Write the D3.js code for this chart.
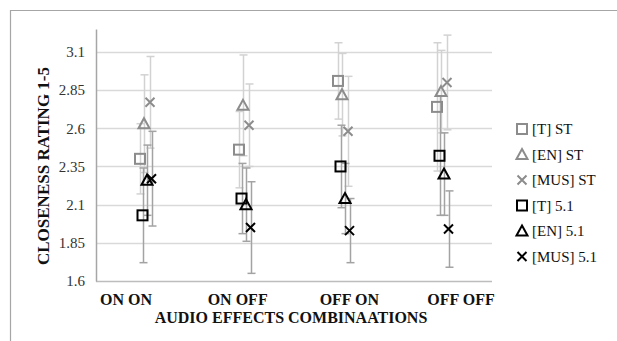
<!DOCTYPE html>
<html><head><meta charset="utf-8">
<script src="https://cdn.jsdelivr.net/npm/d3@7/dist/d3.min.js"></script>
<style>html,body{margin:0;padding:0;background:#fff;}svg{display:block;} svg text{font-family:"Liberation Serif","Times New Roman",serif;}</style>
</head><body>
<script>
const categories = ["ON ON", "ON OFF", "OFF ON", "OFF OFF"];
const yTicks = [1.6, 1.85, 2.1, 2.35, 2.6, 2.85, 3.1];
const seriesNames = ["[T] ST", "[EN] ST", "[MUS] ST", "[T] 5.1", "[EN] 5.1", "[MUS] 5.1"];
const T_ST = [2.40, 2.46, 2.91, 2.74];
const T_ST_err = [0.23, 0.25, 0.25, 0.42];
const EN_ST = [2.63, 2.75, 2.82, 2.84];
const EN_ST_err = [0.32, 0.33, 0.27, 0.27];
const MUS_ST = [2.77, 2.62, 2.58, 2.90];
const MUS_ST_err = [0.30, 0.27, 0.36, 0.31];
const T_51 = [2.03, 2.14, 2.35, 2.42];
const T_51_err = [0.31, 0.23, 0.27, 0.39];
const EN_51 = [2.26, 2.10, 2.14, 2.30];
const EN_51_err = [0.23, 0.24, 0.23, 0.27];
const MUS_51 = [2.27, 1.95, 1.93, 1.94];
const MUS_51_err = [0.31, 0.30, 0.21, 0.25];

const W = 617, H = 341;
const svg = d3.select("body").append("svg").attr("width", W).attr("height", H);
const serif = "'Liberation Serif', 'Times New Roman', serif";

// chart frame
svg.append("path").attr("d", `M10.5,${H} L10.5,10.5 L${W},10.5`)
  .attr("fill", "none").attr("stroke", "#a6a6a6").attr("stroke-width", 1.2);

const x = d3.scaleBand().domain(categories).range([96, 492]);
const y = d3.scaleLinear().domain([1.6, 3.25]).range([281, 29]);
const labelX = d3.scalePoint().domain(categories).range([126, 461]);

// gridlines
svg.append("g").selectAll("line").data(yTicks).join("line")
  .attr("x1", 96).attr("x2", 492)
  .attr("y1", d => Math.round(y(d)) + 0.5).attr("y2", d => Math.round(y(d)) + 0.5)
  .attr("stroke", d => d === 1.6 ? "#bdbdbd" : "#d9d9d9").attr("stroke-width", 1.5);

// y axis
const yAxis = svg.append("g").attr("transform", "translate(96,0)")
  .call(d3.axisLeft(y).tickValues(yTicks).tickSize(0).tickPadding(11).tickFormat(d => String(d)));
yAxis.attr("font-family", null);
yAxis.select(".domain").attr("stroke", "#a6a6a6").attr("stroke-width", 1.5);
yAxis.selectAll("text").style("font-family", serif).attr("font-size", 15).attr("fill", "#333");

// x labels
svg.append("g").selectAll("text").data(categories).join("text")
  .attr("x", d => labelX(d)).attr("y", 305).attr("text-anchor", "middle")
  .style("font-family", serif).attr("font-weight", "bold").attr("font-size", 16).attr("fill", "#111")
  .text(d => d);

svg.append("text").attr("x", 291).attr("y", 323).attr("text-anchor", "middle")
  .style("font-family", serif).attr("font-weight", "bold").attr("font-size", 16).attr("fill", "#111")
  .text("AUDIO EFFECTS COMBINAATIONS");

svg.append("text").attr("transform", "translate(49,166) rotate(-90)").attr("text-anchor", "middle")
  .style("font-family", serif).attr("font-weight", "bold").attr("font-size", 17).attr("fill", "#111")
  .text("CLOSENESS RATING 1-5");

const series = [
  {name: seriesNames[0], vals: T_ST, err: T_ST_err, shape: "square", color: "#8c8c8c", errColor: "#d2d2d2", dx: -5.5},
  {name: seriesNames[1], vals: EN_ST, err: EN_ST_err, shape: "triangle", color: "#8c8c8c", errColor: "#d2d2d2", dx: -1.5},
  {name: seriesNames[2], vals: MUS_ST, err: MUS_ST_err, shape: "x", color: "#8c8c8c", errColor: "#d2d2d2", dx: 4.5},
  {name: seriesNames[3], vals: T_51, err: T_51_err, shape: "square", color: "#000", errColor: "#a3a3a3", dx: -3},
  {name: seriesNames[4], vals: EN_51, err: EN_51_err, shape: "triangle", color: "#000", errColor: "#a3a3a3", dx: 1.5},
  {name: seriesNames[5], vals: MUS_51, err: MUS_51_err, shape: "x", color: "#000", errColor: "#a3a3a3", dx: 6}
];

function drawMarker(g, shape, color) {
  if (shape === "square") {
    g.append("rect").attr("x", -5).attr("y", -5).attr("width", 10).attr("height", 10)
      .attr("fill", "none").attr("stroke", color).attr("stroke-width", 2);
  } else if (shape === "triangle") {
    g.append("path").attr("d", "M0,-5.5 L5.5,4.5 L-5.5,4.5 Z")
      .attr("fill", "none").attr("stroke", color).attr("stroke-width", 2).attr("stroke-linejoin", "miter");
  } else {
    g.append("path").attr("d", "M-4.5,-4.5 L4.5,4.5 M4.5,-4.5 L-4.5,4.5")
      .attr("fill", "none").attr("stroke", color).attr("stroke-width", 2);
  }
}

const cx = (s, i) => x(categories[i]) + x.bandwidth() / 2 + s.dx;

// error bars: ST first (behind), then 5.1
series.forEach(s => {
  const g = svg.append("g").attr("stroke", s.errColor).attr("stroke-width", 1.5).attr("fill", "none");
  s.vals.forEach((v, i) => {
    const px = Math.round(cx(s, i)) + 0.5;
    const top = y(v + s.err[i]), bot = y(v - s.err[i]);
    g.append("line").attr("x1", px).attr("x2", px).attr("y1", top).attr("y2", bot);
    g.append("line").attr("x1", px - 4).attr("x2", px + 4).attr("y1", top).attr("y2", top);
    g.append("line").attr("x1", px - 4).attr("x2", px + 4).attr("y1", bot).attr("y2", bot);
  });
});

// markers
series.forEach(s => {
  s.vals.forEach((v, i) => {
    const g = svg.append("g").attr("transform", `translate(${cx(s, i)},${y(v)})`);
    drawMarker(g, s.shape, s.color);
  });
});

// legend
const legendY = d3.scalePoint().domain(seriesNames).range([129, 256.5]);
series.forEach(s => {
  const g = svg.append("g").attr("transform", `translate(522,${legendY(s.name)})`);
  drawMarker(g, s.shape, s.color);
  svg.append("text").attr("x", 532).attr("y", legendY(s.name) + 5)
    .style("font-family", serif).attr("font-size", 15).attr("fill", "#111").text(s.name);
});
</script>
</body></html>
